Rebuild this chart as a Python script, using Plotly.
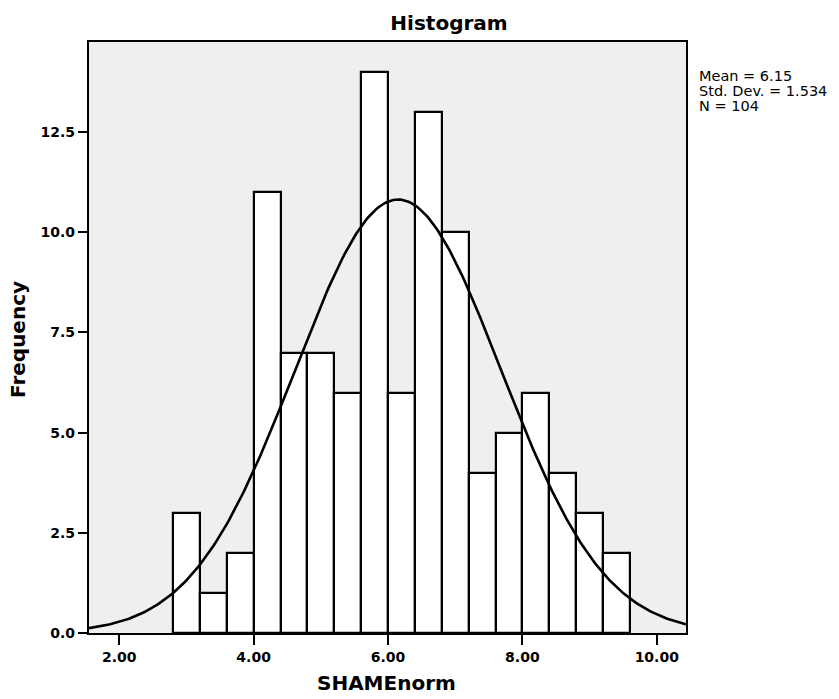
import numpy as np
import plotly.graph_objects as go

# ---- data ----
counts = [3, 1, 2, 11, 7, 7, 6, 14, 6, 13, 10, 4, 5, 6, 4, 3, 2]
bin_start = 2.8
bin_width = 0.4
mean_val = 6.15
std_val = 1.534
n_val = 104
x_tick_vals = [2, 4, 6, 8, 10]
y_tick_vals = [0, 2.5, 5, 7.5, 10, 12.5]
x_range = [1.55, 10.435]
y_range = [0, 14.75]

bin_centers = [bin_start + bin_width * (i + 0.5) for i in range(len(counts))]

# normal curve overlay defined by the reported statistics
cx = np.linspace(x_range[0], x_range[1], 300)
cy = n_val * bin_width / (std_val * np.sqrt(2 * np.pi)) * np.exp(-0.5 * ((cx - mean_val) / std_val) ** 2)

FONT = "DejaVu Sans"

fig = go.Figure()
fig.add_trace(go.Bar(
    x=bin_centers, y=counts, width=bin_width,
    marker=dict(color="white", line=dict(color="black", width=2.2)),
    showlegend=False, hoverinfo="x+y",
))
fig.add_trace(go.Scatter(
    x=cx, y=cy, mode="lines",
    line=dict(color="black", width=2.6),
    showlegend=False, hoverinfo="skip",
))

W, H = 839, 699
L, R, T, B = 89, 686, 42, 633

fig.update_layout(
    width=W, height=H,
    margin=dict(l=L, r=W - R, t=T, b=H - B, pad=0),
    paper_bgcolor="white",
    plot_bgcolor="#efefef",
    bargap=0,
    font=dict(family=FONT, color="black"),
    title=dict(text="<b>Histogram</b>", font=dict(family=FONT, size=20, color="black"),
               x=(449 - L) / (R - L), xref="paper", xanchor="center",
               y=1 - 23 / H, yref="container", yanchor="middle"),
    xaxis=dict(range=x_range, tickvals=x_tick_vals, tickformat=".2f",
               ticks="outside", ticklen=10, tickwidth=2.2, tickcolor="black",
               showgrid=False, zeroline=False,
               showline=True, linecolor="black", linewidth=2.2, mirror=True,
               tickfont=dict(family=FONT, size=14, color="black", weight="bold")),
    yaxis=dict(range=y_range, tickvals=y_tick_vals, tickformat=".1f",
               ticks="outside", ticklen=9, tickwidth=2.2, tickcolor="black",
               showgrid=False, zeroline=False,
               showline=True, linecolor="black", linewidth=2.2, mirror=True,
               tickfont=dict(family=FONT, size=14, color="black", weight="bold")),
)

pw, ph = R - L, B - T
annots = [
    dict(text="<b>SHAMEnorm</b>", x=(386 - L) / pw, y=(B - 697) / ph,
         font=dict(size=20), xanchor="center", yanchor="bottom"),
    dict(text="<b>Frequency</b>", x=(18 - L) / pw, y=(B - 340) / ph, textangle=-90,
         font=dict(size=20), xanchor="center", yanchor="middle"),
    dict(text=f"Mean = {mean_val}", x=(697 - L) / pw, y=(B - 76) / ph,
         font=dict(size=14.5), xanchor="left", yanchor="middle"),
    dict(text=f"Std. Dev. = {std_val}", x=(697 - L) / pw, y=(B - 91) / ph,
         font=dict(size=14.5), xanchor="left", yanchor="middle"),
    dict(text=f"N = {n_val}", x=(697 - L) / pw, y=(B - 106) / ph,
         font=dict(size=14.5), xanchor="left", yanchor="middle"),
]
for a in annots:
    a.update(xref="paper", yref="paper", showarrow=False)
    a["font"].update(family=FONT, color="black")
    fig.add_annotation(**a)

# remove the browser's default 8px body margin so the figure sits at (0, 0)
fig.write_html("out.html", config={"displayModeBar": False},
               post_script="document.body.style.margin='0px';")
